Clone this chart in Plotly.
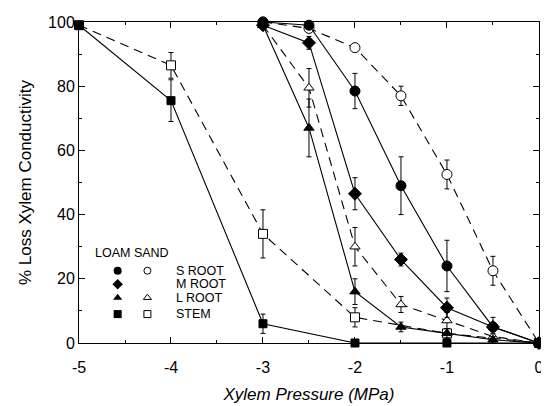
import plotly.graph_objects as go

# ---- data ----
pressure_root = [-3, -2.5, -2, -1.5, -1, -0.5, 0]
s_root_loam = [100, 99, 78.5, 49, 24, 5, 0]
s_root_loam_err = [0, 0, 5.5, 9, 8, 0, 0]
s_root_sand = [100, 98, 92, 77, 52.5, 22.5, 0]
s_root_sand_err = [0, 0, 0, 3, 4.5, 4.5, 0]
m_root_loam = [99, 93.5, 46.5, 26, 11, 5, 0]
m_root_loam_err = [0, 2, 5, 2, 3, 3, 0]
l_root_loam = [99, 67, 16, 5, 3, 1, 0]
l_root_loam_err = [0, 9, 4, 1.5, 1.5, 1, 0]
l_root_sand = [99, 79.5, 30, 12, 7, 2, 0]
l_root_sand_err = [0, 6, 6, 2.5, 2.5, 1, 0]
pressure_stem = [-5, -4, -3, -2, -1, 0]
stem_loam = [99, 75.5, 6, 0, 0, 0]
stem_loam_err = [0, 6.5, 3, 0, 0, 0]
stem_sand = [99, 86.5, 34, 8, 3, 0]
stem_sand_err = [0, 4, 7.5, 3, 1.5, 0]

x_ticks = [-5, -4, -3, -2, -1, 0]
x_ticktext = ["-5", "-4", "-3", "-2", "-1", "0"]
y_ticks = [0, 20, 40, 60, 80, 100]

legend_labels = ["S ROOT", "M ROOT", "L ROOT", "STEM"]
legend_loam_symbols = ["circle", "diamond", "triangle-up", "square"]
legend_sand_symbols = ["circle", None, "triangle-up", "square"]

FONT = "Liberation Sans, Arial, sans-serif"
DASH = "9px,6px"
fig = go.Figure()

def add(x, y, err, symbol, filled, dash, size=9):
    fig.add_trace(go.Scatter(
        x=x, y=y, mode="lines+markers",
        line=dict(color="black", width=1.1, dash=dash),
        marker=dict(symbol=symbol, size=size, color="black" if filled else "white",
                    line=dict(color="black", width=1)),
        error_y=dict(type="data", array=err, visible=True, color="black", thickness=1, width=2.5),
        cliponaxis=False, showlegend=False))

add(pressure_stem, stem_sand, stem_sand_err, "square", False, DASH, 9)
add(pressure_stem, stem_loam, stem_loam_err, "square", True, "solid", 8)
add(pressure_root, l_root_sand, l_root_sand_err, "triangle-up", False, DASH, 9)
add(pressure_root, l_root_loam, l_root_loam_err, "triangle-up", True, "solid", 9)
add(pressure_root, m_root_loam, m_root_loam_err, "diamond", True, "solid", 10)
add(pressure_root, s_root_sand, s_root_sand_err, "circle", False, DASH, 10)
add(pressure_root, s_root_loam, s_root_loam_err, "circle", True, "solid", 10)

# ---- custom legend on an invisible overlay axis (pixel-like units) ----
row_y = [75, 61, 47, 30]
for i, lab in enumerate(legend_labels):
    fig.add_trace(go.Scatter(x=[39], y=[row_y[i]], mode="markers", xaxis="x2", yaxis="y2",
                             marker=dict(symbol=legend_loam_symbols[i], size=8, color="black"),
                             showlegend=False, hoverinfo="skip"))
    if legend_sand_symbols[i]:
        fig.add_trace(go.Scatter(x=[69], y=[row_y[i]], mode="markers", xaxis="x2", yaxis="y2",
                                 marker=dict(symbol=legend_sand_symbols[i], size=7, color="white",
                                             line=dict(width=1, color="black")),
                                 showlegend=False, hoverinfo="skip"))
    fig.add_annotation(x=96, y=row_y[i], xref="x2", yref="y2", text=lab, showarrow=False,
                       xanchor="left", font=dict(size=12.5, family=FONT, color="black"))
fig.add_annotation(x=14, y=93, xref="x2", yref="y2", text="LOAM SAND", showarrow=False,
                   xanchor="left", font=dict(size=12.5, family=FONT, color="black"))

axis_common = dict(showline=True, linecolor="black", linewidth=1, mirror="ticks",
                   ticks="inside", tickcolor="black", showgrid=False, zeroline=False,
                   ticklabeloverflow="allow",
                   tickfont=dict(size=16, family=FONT, color="black"))
# page body has an 8px default margin, so the figure is sized/offset to compensate
fig.update_layout(
    width=541, height=398,
    margin=dict(l=71, r=6, t=9, b=59),
    paper_bgcolor="white", plot_bgcolor="white",
    xaxis=dict(range=[-5, 0.0005], tickvals=x_ticks, ticktext=x_ticktext, ticklen=6,
               ticklabelstandoff=10,
               minor=dict(dtick=0.5, ticklen=3, ticks="inside", tickcolor="black"),
               title=dict(text="<i>Xylem Pressure (MPa)</i>", font=dict(size=17, family=FONT, color="black"),
                          standoff=12),
               **axis_common),
    yaxis=dict(range=[0, 100], tickvals=y_ticks, ticklen=6,
               minor=dict(dtick=10, ticklen=3, ticks="inside", tickcolor="black"),
               title=dict(text="% Loss Xylem Conductivity", font=dict(size=17, family=FONT, color="black"),
                          standoff=12),
               **axis_common),
    xaxis2=dict(range=[0, 464], overlaying="x", visible=False, fixedrange=True),
    yaxis2=dict(range=[0, 333], overlaying="y", visible=False, fixedrange=True),
)

fig.write_html("out.html")
